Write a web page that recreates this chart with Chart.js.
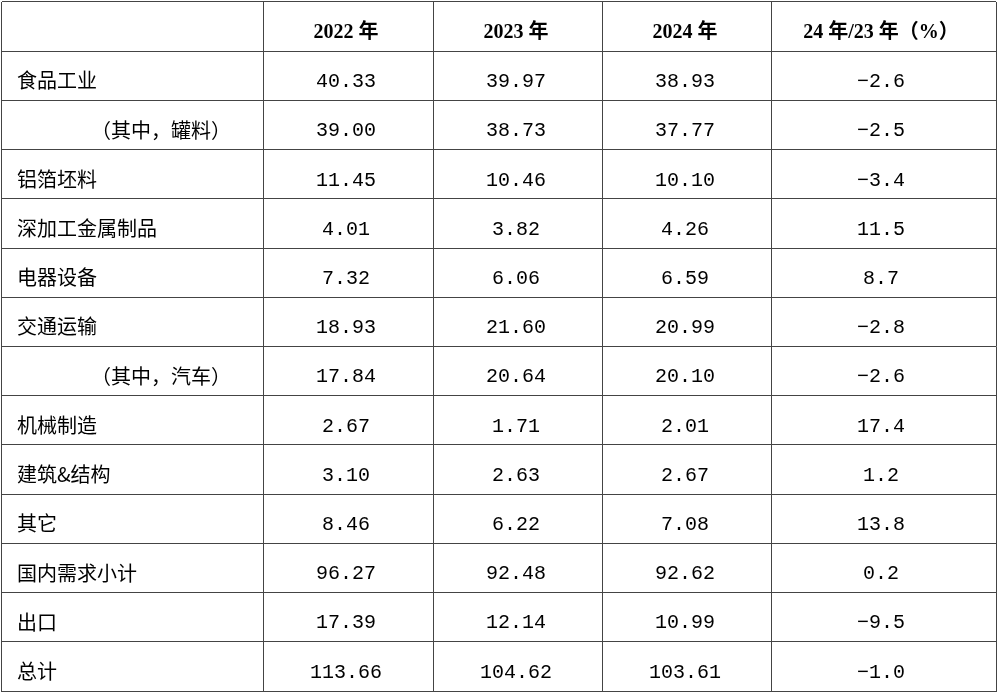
<!DOCTYPE html>
<html>
<head>
<meta charset="utf-8">
<script src="https://cdn.jsdelivr.net/npm/chart.js@4/dist/chart.umd.min.js"></script>
<style>
  body { margin: 0; background: #fff; }
  #wrap { width: 997px; height: 693px; }
</style>
</head>
<body>
<div id="wrap"><canvas id="tbl"></canvas></div>
<script>
const headers = ["", "2022 年", "2023 年", "2024 年", "24 年/23 年（%）"];
const categories = ["食品工业", "（其中，罐料）", "铝箔坯料", "深加工金属制品", "电器设备", "交通运输",
    "（其中，汽车）", "机械制造", "建筑&结构", "其它", "国内需求小计", "出口", "总计"];
const y2022 = [40.33, 39.00, 11.45, 4.01, 7.32, 18.93, 17.84, 2.67, 3.10, 8.46, 96.27, 17.39, 113.66];
const y2023 = [39.97, 38.73, 10.46, 3.82, 6.06, 21.60, 20.64, 1.71, 2.63, 6.22, 92.48, 12.14, 104.62];
const y2024 = [38.93, 37.77, 10.10, 4.26, 6.59, 20.99, 20.10, 2.01, 2.67, 7.08, 92.62, 10.99, 103.61];
const change = [-2.6, -2.5, -3.4, 11.5, 8.7, -2.8, -2.6, 17.4, 1.2, 13.8, 0.2, -9.5, -1.0];

// layout: column edges and centres along the x axis
const colEdges = [0, 262, 432, 601, 770, 995];
const colCenters = [16, 345, 515, 684, 880];
const rows = ["head"].concat(categories);

const numFont = "20px 'Liberation Mono', monospace";
const cjkFont = "20px 'Noto Sans CJK SC', sans-serif";

function pts(col, vals, fmt) {
    return vals.map((v, i) => ({ x: colCenters[col], y: categories[i], t: fmt(v) }));
}
const datasets = [
    { data: categories.map((c) => ({ x: colCenters[0], y: c, t: c, left: true, indent: c.startsWith("（") })) },
    { data: pts(1, y2022, (v) => v.toFixed(2)) },
    { data: pts(2, y2023, (v) => v.toFixed(2)) },
    { data: pts(3, y2024, (v) => v.toFixed(2)) },
    { data: pts(4, change, (v) => v.toFixed(1).replace("-", "−")) },
    { data: headers.map((h, i) => ({ x: colCenters[i], y: "head", t: h, head: true })) },
].map((d) => Object.assign(d, { pointRadius: 0, pointHoverRadius: 0 }));

const cellText = {
    id: "cellText",
    afterDatasetsDraw(chart) {
        const ctx = chart.ctx;
        ctx.save();
        ctx.fillStyle = "#000";
        ctx.textBaseline = "middle";
        chart.data.datasets.forEach((ds, di) => {
            chart.getDatasetMeta(di).data.forEach((el, i) => {
                const p = ds.data[i];
                if (!p.t) return;
                if (p.head) {
                    ctx.font = "bold 20px 'Liberation Serif', 'Noto Sans CJK SC', serif";
                    ctx.textAlign = "center";
                    ctx.fillText(p.t, el.x, el.y + 6);
                } else if (p.left) {
                    ctx.font = cjkFont;
                    ctx.textAlign = "left";
                    ctx.fillText(p.t, el.x + (p.indent ? 74 : 0), el.y + 5);
                } else {
                    ctx.font = numFont;
                    ctx.textAlign = "center";
                    ctx.fillText(p.t, el.x, el.y + 6);
                }
            });
        });
        ctx.restore();
    },
};

new Chart(document.getElementById("tbl"), {
    type: "scatter",
    data: { datasets: datasets },
    plugins: [cellText],
    options: {
        responsive: true,
        maintainAspectRatio: false,
        animation: false,
        layout: { padding: { top: 2, left: 1, right: 1, bottom: 2 } },
        plugins: { legend: { display: false }, tooltip: { enabled: false } },
        scales: {
            x: {
                type: "linear",
                min: 0,
                max: 995,
                afterBuildTicks: (s) => { s.ticks = colEdges.map((v) => ({ value: v })); },
                ticks: { display: false },
                grid: { color: "#444", lineWidth: 1, drawTicks: false },
                border: { display: true, color: "#444" },
            },
            y: {
                type: "category",
                labels: rows,
                offset: true,
                ticks: { display: false },
                grid: { offset: true, color: "#444", lineWidth: 1, drawTicks: false },
                border: { display: true, color: "#444" },
            },
        },
    },
});
</script>
</body>
</html>
